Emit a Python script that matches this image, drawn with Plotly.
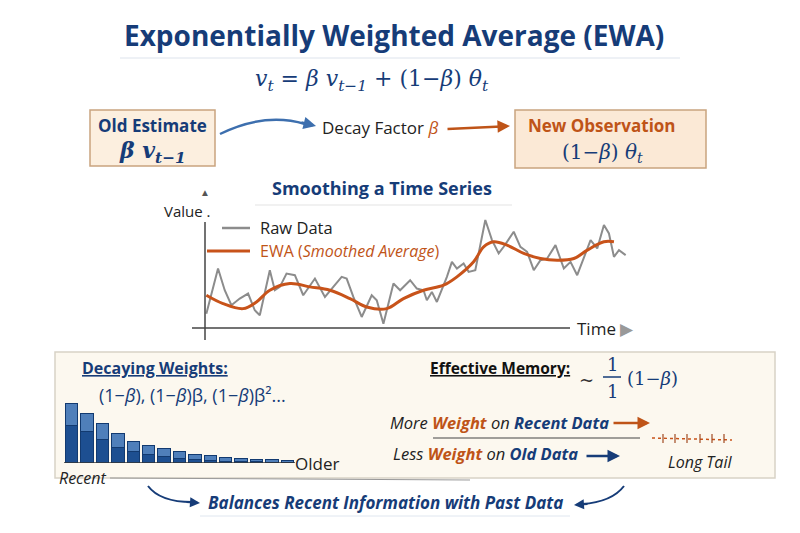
import plotly.graph_objects as go

# time series
raw_t = [5, 8.5, 10.5, 12.5, 15, 17.5, 19.5, 21, 24, 25.5, 27, 29, 31.5, 34, 37.5, 40.5, 43, 45.5, 47,
         49, 51.5, 54.5, 56, 58, 61, 63, 66, 68, 70, 71, 72.5, 74, 77, 78.5, 80, 82, 83.5, 85.5, 88.5,
         90.5, 92.5, 94, 97, 99, 101, 103, 105, 107, 109.5, 112, 114, 116, 120, 122, 124, 125.5, 127,
         128.5, 130.5]
raw_v = [4, 17.5, 11, 6.5, 8.5, 10, 5, 3.5, 17, 11, 12, 16, 15.5, 9.5, 14.5, 9, 12, 15, 14.5, 9, 3, 9.5,
         8, 1, 13, 11, 14, 11.5, 11, 8, 10.5, 7.5, 15, 19.5, 17.5, 19, 16.5, 17, 32, 26, 22, 24, 28.5,
         24, 22.5, 17, 20, 20.5, 24.5, 17.5, 19.5, 15.5, 26, 23.5, 30.5, 28, 21, 23, 21.5]
ewa_t = [5, 10, 16, 20, 24, 30, 36, 42, 48, 53, 59, 64, 70, 76, 80, 85, 88, 91, 95, 100, 105, 110, 115,
         119, 124, 127]
ewa_v = [9.5, 7, 5.5, 7.5, 11, 13, 12, 11, 8.5, 6, 5.5, 8.5, 11, 12.5, 15, 19.5, 24, 25.5, 24.5, 22,
         20.5, 20, 20.5, 23, 25.5, 25.5]

# decaying weights bars
w_idx = list(range(15))
w_dark = [112, 95, 72, 47, 35, 27, 20, 15, 10, 8, 6, 5, 4, 3, 3]
w_light = [68, 55, 48, 43, 30, 26, 23, 20, 17, 14, 11, 9, 8, 7, 5]

# long tail tick positions (pixels along the tail line)
tail_ticks = [663, 675, 687, 700, 712, 724]

NAVY = "#163c78"
ORANGE = "#bf5418"
FONT = "Open Sans"
OFF = 8  # page margin of the browser
W, H = 800 - 2 * OFF, 533 - 2 * OFF


def px(x):
    return (x - OFF) / W


def py(y):
    return 1 - (y - OFF) / H


fig = go.Figure()
fig.add_trace(go.Scatter(x=raw_t, y=raw_v, mode="lines", line=dict(color="#8c8c8c", width=2),
                         xaxis="x", yaxis="y"))
fig.add_trace(go.Scatter(x=ewa_t, y=ewa_v, mode="lines", line=dict(color="#c8531a", width=3, shape="spline"),
                         xaxis="x", yaxis="y"))
fig.add_trace(go.Bar(x=w_idx, y=w_dark, marker=dict(color="#1d4f91", line=dict(color="#123a70", width=1)),
                     xaxis="x2", yaxis="y2", width=0.8))
fig.add_trace(go.Bar(x=w_idx, y=w_light, marker=dict(color="#4f7fba", line=dict(color="#123a70", width=1)),
                     xaxis="x2", yaxis="y2", width=0.8))

shapes = []
ann = []


def rect(x0, y0, x1, y1, fill, line, w=1.5):
    shapes.append(dict(type="rect", xref="paper", yref="paper", x0=px(x0), x1=px(x1), y0=py(y0), y1=py(y1),
                       fillcolor=fill, line=dict(color=line, width=w), layer="below"))


def line(x0, y0, x1, y1, color, w=1.5, dash=None):
    shapes.append(dict(type="line", xref="paper", yref="paper", x0=px(x0), x1=px(x1), y0=py(y0), y1=py(y1),
                       line=dict(color=color, width=w, dash=dash)))


def curve(x0, y0, cx, cy, x1, y1, color, w=2.5):
    shapes.append(dict(type="path", xref="paper", yref="paper",
                       path="M %f,%f Q %f,%f %f,%f" % (px(x0), py(y0), px(cx), py(cy), px(x1), py(y1)),
                       line=dict(color=color, width=w)))


def text(x, y, s, size=14, color=NAVY, family=FONT, anchor="center"):
    ann.append(dict(x=px(x), y=py(y), xref="paper", yref="paper", text=s, showarrow=False,
                    font=dict(size=size, color=color, family=family), xanchor=anchor, yanchor="middle"))


def arrow(x0, y0, x1, y1, color, w=2.5):
    ann.append(dict(x=px(x1), y=py(y1), ax=x0 - x1, ay=y0 - y1, xref="paper", yref="paper",
                    text="", showarrow=True, arrowhead=2, arrowsize=1, arrowwidth=w, arrowcolor=color))


# title and formula
text(394, 35, "<b>Exponentially Weighted Average (EWA)</b>", 28, NAVY)
line(120, 58, 680, 58, "#dde3ec", 1)
text(372, 80, "<i>v<sub>t</sub></i> = <i>β v<sub>t−1</sub></i> + (1−<i>β</i>) <i>θ<sub>t</sub></i>", 22, NAVY,
     "DejaVu Serif")

# top boxes
rect(90, 110, 215, 166, "#fcefdf", "#c9a47f")
text(152, 125, "<b>Old Estimate</b>", 17, NAVY)
text(152, 152, "<b><i>β v<sub>t−1</sub></i></b>", 22, NAVY, "DejaVu Serif")
curve(220, 134, 265, 112, 305, 124, "#3d6fae")
arrow(300, 122, 316, 126, "#3d6fae")
text(380, 127, "Decay Factor <span style='color:%s'><i>β</i></span>" % ORANGE, 17, "#222")
arrow(446, 129, 510, 126, ORANGE)
rect(515, 110, 706, 168, "#fbe9d6", "#c9a47f")
text(602, 125, "<b>New Observation</b>", 17, ORANGE)
text(602, 153, "(1−<i>β</i>) <i>θ<sub>t</sub></i>", 20, NAVY, "DejaVu Serif")

# time series labels
text(382, 188, "<b>Smoothing a Time Series</b>", 18, NAVY)
line(255, 205, 512, 205, "#e3e3e3", 1)
text(213, 211, "Value .", 15, "#222", anchor="right")
text(205, 192, "▲", 10, "#555")
line(205, 222, 205, 340, "#444", 1.5)
line(192, 328, 570, 328, "#444", 1.5)
line(222, 228, 250, 228, "#8c8c8c", 2.5)
text(258, 228, "Raw Data", 16.5, "#222", anchor="left")
line(207, 251, 250, 251, "#c8531a", 3)
text(258, 251, "EWA (<i>Smoothed Average</i>)", 16, ORANGE, anchor="left")
text(575, 328, "Time <span style='color:#999'>▶</span>", 17, "#222", anchor="left")

# bottom panel
rect(55, 352, 775, 478, "#fcf8ef", "#d8d2c6", 1.5)
text(155, 368, "<b><u>Decaying Weights:</u></b>", 16, NAVY)
text(192, 395, "(1−<i>β</i>), (1−<i>β</i>)β, (1−<i>β</i>)β²...", 18, NAVY)
text(317, 463, "Older", 17, "#222")
text(83, 478, "<i>Recent</i>", 16, "#222")
line(110, 478, 470, 480, "#999", 1)

text(500, 368, "<b><u>Effective Memory:</u></b>", 15.5, "#111")
text(586, 379, "~", 18, "#333", "DejaVu Serif")
text(612, 364, "1", 18, NAVY, "DejaVu Serif")
line(603, 377, 621, 377, NAVY, 1.5)
text(612, 391, "1", 18, NAVY, "DejaVu Serif")
text(652, 378, "(1−<i>β</i>)", 18, NAVY, "DejaVu Serif")
text(499, 422, "<i>More <b><span style='color:%s'>Weight</span></b> on <b><span style='color:%s'>Recent Data</span></b></i>"
     % (ORANGE, NAVY), 16.5, "#222")
arrow(612, 423, 650, 423, ORANGE)
line(433, 438, 640, 438, "#444", 1)
line(652, 438, 732, 440, "#c8531a", 1.5, "dot")
for t in tail_ticks:
    line(t, 434, t, 443, "#a04a20", 1.2)
text(485, 453, "<i>Less <b><span style='color:%s'>Weight</span></b> on <b><span style='color:%s'>Old Data</span></b></i>"
     % (ORANGE, NAVY), 16.5, "#222")
arrow(585, 456, 620, 456, NAVY)
text(700, 462, "<i>Long Tail</i>", 16, "#222")

text(385, 502, "<b><i>Balances Recent Information with Past Data</i></b>", 17, NAVY)
line(200, 516, 570, 516, "#dfe6ef", 1)
curve(148, 486, 160, 502, 192, 502, NAVY, 2)
arrow(185, 502, 200, 503, NAVY, 2)
curve(624, 486, 612, 502, 582, 504, NAVY, 2)
arrow(589, 504, 574, 505, NAVY, 2)

fig.update_layout(
    width=W, height=H, margin=dict(l=0, r=0, t=0, b=0), showlegend=False,
    paper_bgcolor="white", plot_bgcolor="rgba(0,0,0,0)", barmode="stack",
    shapes=shapes, annotations=ann,
    xaxis=dict(domain=[px(203), px(634)], range=[4, 133], visible=False, anchor="y"),
    yaxis=dict(domain=[py(327), py(200)], range=[0, 38], visible=False, anchor="x"),
    xaxis2=dict(domain=[px(64), px(295)], range=[-0.5, 14.5], visible=False, anchor="y2"),
    yaxis2=dict(domain=[py(463), py(403)], range=[0, 180], visible=False, anchor="x2"),
)
fig.add_shape(type="line", xref="x2", yref="y2", x0=-0.5, x1=14.6, y0=0, y1=0, line=dict(color="#333", width=1.5))

fig.write_html("out.html")
